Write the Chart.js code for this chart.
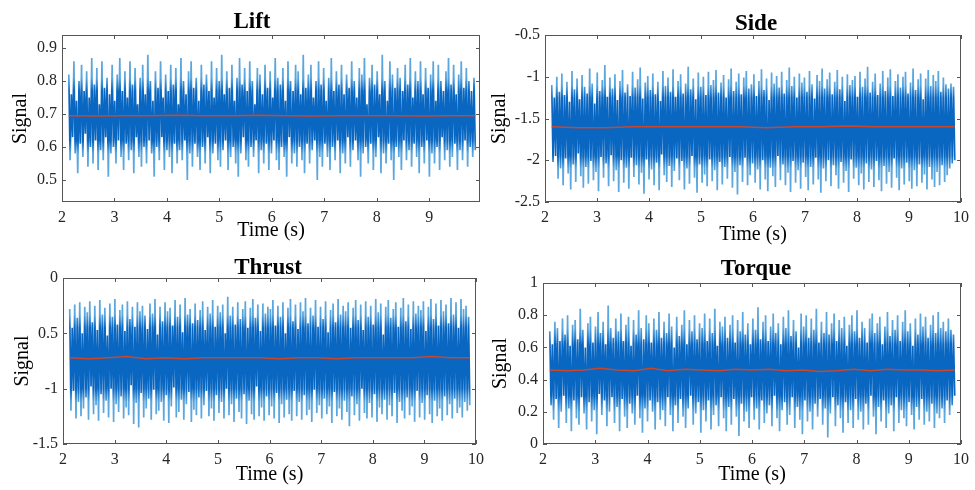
<!DOCTYPE html>
<html>
<head>
<meta charset="utf-8">
<script src="https://cdn.jsdelivr.net/npm/chart.js@4.4.1/dist/chart.umd.min.js"></script>
<style>
  body { margin: 0; background: #fff; }
  .panel { position: absolute; }
</style>
</head>
<body>
<div class="panel" style="left:0;top:0"><canvas id="lift" width="490" height="245"></canvas></div>
<div class="panel" style="left:490px;top:0"><canvas id="side" width="485" height="245"></canvas></div>
<div class="panel" style="left:0;top:245px"><canvas id="thrust" width="490" height="245"></canvas></div>
<div class="panel" style="left:490px;top:245px"><canvas id="torque" width="485" height="245"></canvas></div>
<script>
// sampling window of the recorded signals (s)
const sampleStart = 2.13;
const sampleEnd = 9.88;

const liftSignal = [
  0.82,0.56,0.76,0.63,0.86,0.58,0.74,0.52,0.80,0.61,0.85,0.57,0.77,0.64,0.83,0.54,0.75,0.60,0.87,0.55,
  0.79,0.62,0.84,0.53,0.73,0.59,0.86,0.56,0.78,0.63,0.81,0.51,0.76,0.58,0.85,0.60,0.74,0.55,0.82,0.62,
  0.87,0.57,0.77,0.53,0.83,0.61,0.75,0.56,0.86,0.59,0.79,0.52,0.84,0.63,0.73,0.57,0.81,0.54,0.85,0.60,
  0.76,0.55,0.88,0.62,0.80,0.58,0.74,0.51,0.83,0.60,0.78,0.56,0.86,0.63,0.75,0.53,0.82,0.59,0.77,0.57,
  0.85,0.52,0.79,0.61,0.84,0.55,0.73,0.59,0.87,0.56,0.80,0.62,0.76,0.50,0.83,0.58,0.86,0.54,0.78,0.61,
  0.81,0.57,0.74,0.53,0.85,0.60,0.79,0.55,0.82,0.63,0.77,0.52,0.86,0.58,0.75,0.61,0.84,0.56,0.80,0.54,
  0.88,0.59,0.76,0.62,0.83,0.53,0.78,0.57,0.85,0.60,0.74,0.55,0.81,0.51,0.87,0.58,0.79,0.63,0.84,0.56,
  0.77,0.54,0.86,0.60,0.80,0.57,0.73,0.62,0.84,0.52,0.82,0.59,0.76,0.55,0.85,0.61,0.78,0.53,0.83,0.58,
  0.75,0.62,0.87,0.56,0.81,0.53,0.79,0.60,0.84,0.57,0.74,0.51,0.86,0.63,0.80,0.55,0.77,0.58,0.85,0.54,
  0.83,0.60,0.76,0.56,0.88,0.52,0.78,0.61,0.82,0.55,0.85,0.59,0.75,0.62,0.80,0.50,0.86,0.57,0.79,0.54,
  0.84,0.61,0.74,0.57,0.81,0.53,0.87,0.60,0.77,0.56,0.83,0.62,0.79,0.52,0.85,0.58,0.76,0.55,0.82,0.63,
  0.78,0.54,0.86,0.59,0.80,0.62,0.75,0.56,0.84,0.51,0.82,0.58,0.87,0.60,0.73,0.55,0.81,0.61,0.85,0.53,
  0.79,0.57,0.83,0.63,0.76,0.52,0.88,0.58,0.80,0.55,0.74,0.61,0.86,0.56,0.82,0.50,0.78,0.60,0.84,0.57,
  0.81,0.53,0.77,0.62,0.85,0.56,0.79,0.59,0.87,0.54,0.75,0.61,0.83,0.57,0.80,0.52,0.86,0.60,0.76,0.55,
  0.84,0.62,0.78,0.51,0.82,0.58,0.86,0.55,0.74,0.60,0.85,0.53,0.80,0.63,0.77,0.56,0.83,0.59,0.87,0.54,
  0.79,0.57,0.85,0.61,0.76,0.53,0.82,0.59,0.86,0.56,0.78,0.62,0.84,0.54,0.80,0.60,0.77,0.57,0.81,0.59
];
const liftMean = [0.695,0.694,0.695,0.695,0.696,0.695,0.695,0.696,0.695,0.694,0.695,0.695,0.695,0.694,0.695,0.695];

const sideSignal = [
  -1.10,-2.02,-1.25,-1.95,-1.00,-2.22,-1.18,-2.10,-0.96,-2.30,-1.22,-1.98,-1.06,-2.16,-1.30,-2.35,-0.93,-2.05,-1.15,-2.26,
  -1.02,-1.92,-1.27,-2.19,-0.98,-2.33,-1.12,-2.08,-1.20,-2.28,-0.90,-2.01,-1.08,-2.24,-1.32,-2.14,-0.95,-2.37,-1.17,-1.96,
  -1.04,-2.21,-0.86,-2.04,-1.24,-2.31,-1.01,-1.94,-1.14,-2.25,-0.97,-2.12,-1.28,-2.38,-1.05,-2.00,-0.92,-2.27,-1.19,-2.09,
  -1.09,-2.34,-1.23,-1.97,-0.94,-2.20,-1.13,-2.06,-1.03,-2.29,-0.89,-2.15,-1.26,-2.40,-1.07,-1.99,-0.99,-2.23,-1.16,-2.11,
  -0.96,-2.30,-1.21,-2.03,-1.06,-2.36,-1.29,-1.93,-0.93,-2.18,-1.11,-2.26,-1.01,-2.07,-1.18,-2.32,-0.91,-2.13,-1.24,-1.98,
  -1.05,-2.24,-0.97,-2.01,-1.20,-2.35,-1.08,-2.10,-0.88,-2.28,-1.15,-1.95,-1.02,-2.21,-1.27,-2.39,-0.95,-2.05,-1.12,-2.27,
  -1.00,-2.17,-1.22,-2.31,-0.94,-1.99,-1.10,-2.25,-1.04,-2.12,-0.92,-2.36,-1.19,-2.02,-1.07,-2.29,-0.98,-2.08,-1.25,-2.22,
  -1.03,-1.96,-0.90,-2.33,-1.17,-2.14,-1.06,-2.41,-0.96,-2.06,-1.21,-2.26,-1.01,-1.97,-0.93,-2.30,-1.14,-2.18,-1.09,-2.04,
  -0.97,-2.27,-1.23,-2.11,-1.05,-2.35,-0.91,-2.00,-1.16,-2.23,-1.02,-2.37,-1.28,-2.09,-0.95,-2.19,-1.08,-2.32,-0.99,-1.95,
  -1.13,-2.24,-0.94,-2.05,-1.20,-2.30,-1.04,-2.15,-0.89,-2.38,-1.11,-2.01,-1.00,-2.27,-1.25,-2.12,-0.96,-2.34,-1.07,-2.03,
  -1.01,-2.20,-1.18,-2.36,-0.93,-2.08,-1.09,-2.29,-1.26,-1.97,-0.98,-2.23,-1.05,-2.39,-0.90,-2.10,-1.14,-2.25,-1.03,-2.00,
  -0.95,-2.31,-1.21,-2.06,-1.06,-2.18,-0.92,-2.34,-1.15,-2.02,-1.00,-2.27,-1.29,-2.13,-0.97,-2.38,-1.10,-1.99,-1.04,-2.22,
  -0.99,-2.09,-1.24,-2.30,-0.94,-2.16,-1.12,-2.35,-1.02,-2.04,-0.88,-2.26,-1.19,-2.11,-1.06,-2.32,-0.96,-2.01,-1.22,-2.24,
  -1.08,-2.37,-0.93,-2.07,-1.17,-2.28,-1.01,-2.14,-0.91,-2.33,-1.23,-1.98,-1.05,-2.21,-0.97,-2.36,-1.13,-2.10,-1.00,-2.29,
  -0.94,-2.03,-1.20,-2.25,-1.07,-2.34,-0.90,-2.12,-1.16,-2.31,-1.03,-2.05,-0.96,-2.27,-1.27,-2.17,-1.02,-2.35,-0.92,-2.08,
  -1.11,-2.23,-0.98,-2.32,-1.05,-2.14,-0.93,-2.30,-1.18,-2.06,-1.01,-2.26,-1.09,-2.18,-1.14,-2.10,-1.08,-2.04,-1.12,-2.00
];
const sideMean = [-1.60,-1.61,-1.61,-1.60,-1.60,-1.60,-1.60,-1.60,-1.61,-1.60,-1.60,-1.59,-1.60,-1.60,-1.60,-1.60];

const thrustSignal = [
  -0.28,-1.20,-0.45,-1.02,-0.24,-1.27,-0.36,-1.12,-0.22,-1.25,-0.50,-1.18,-0.26,-1.08,-0.31,-1.28,-0.21,-0.98,-0.40,-1.23,
  -0.25,-1.15,-0.47,-1.29,-0.20,-1.05,-0.33,-1.22,-0.27,-1.11,-0.52,-1.26,-0.23,-1.00,-0.35,-1.30,-0.19,-1.14,-0.42,-1.21,
  -0.29,-1.07,-0.24,-1.27,-0.48,-1.17,-0.21,-1.24,-0.37,-0.97,-0.26,-1.32,-0.44,-1.13,-0.22,-1.35,-0.30,-1.04,-0.25,-1.26,
  -0.34,-1.18,-0.46,-1.09,-0.23,-1.28,-0.32,-1.01,-0.19,-1.23,-0.51,-1.20,-0.26,-1.12,-0.39,-1.29,-0.22,-1.06,-0.30,-1.31,
  -0.27,-1.16,-0.43,-0.99,-0.20,-1.26,-0.35,-1.21,-0.24,-1.10,-0.49,-1.28,-0.18,-1.14,-0.33,-1.03,-0.28,-1.30,-0.41,-1.19,
  -0.23,-1.24,-0.38,-1.08,-0.29,-1.27,-0.21,-1.15,-0.47,-1.02,-0.26,-1.25,-0.32,-1.18,-0.20,-1.29,-0.44,-1.06,-0.25,-1.22,
  -0.31,-1.12,-0.24,-1.27,-0.50,-1.00,-0.17,-1.24,-0.34,-1.14,-0.26,-1.30,-0.42,-1.09,-0.22,-1.21,-0.37,-1.27,-0.28,-1.05,
  -0.21,-1.32,-0.45,-1.11,-0.27,-1.23,-0.19,-1.28,-0.36,-0.98,-0.24,-1.25,-0.48,-1.17,-0.23,-1.29,-0.32,-1.07,-0.26,-1.24,
  -0.28,-1.16,-0.20,-1.27,-0.43,-1.04,-0.25,-1.31,-0.35,-1.14,-0.22,-1.26,-0.50,-1.10,-0.27,-1.23,-0.19,-1.29,-0.39,-1.02,
  -0.24,-1.25,-0.46,-1.12,-0.22,-1.28,-0.30,-1.06,-0.18,-1.24,-0.41,-1.19,-0.27,-1.30,-0.34,-1.01,-0.20,-1.22,-0.44,-1.15,
  -0.26,-1.27,-0.37,-1.09,-0.21,-1.23,-0.49,-1.16,-0.29,-1.31,-0.23,-1.03,-0.40,-1.25,-0.19,-1.18,-0.33,-1.28,-0.25,-1.11,
  -0.30,-1.21,-0.22,-1.34,-0.45,-1.07,-0.27,-1.24,-0.20,-1.14,-0.38,-1.29,-0.24,-1.00,-0.47,-1.22,-0.21,-1.27,-0.35,-1.13,
  -0.25,-1.26,-0.42,-1.05,-0.19,-1.30,-0.31,-1.17,-0.23,-1.23,-0.51,-1.10,-0.26,-1.28,-0.20,-1.15,-0.36,-1.25,-0.28,-1.04,
  -0.22,-1.31,-0.44,-1.12,-0.27,-1.20,-0.18,-1.27,-0.39,-1.08,-0.24,-1.24,-0.46,-1.16,-0.21,-1.30,-0.32,-1.02,-0.25,-1.26,
  -0.29,-1.13,-0.21,-1.28,-0.48,-1.06,-0.26,-1.23,-0.19,-1.31,-0.37,-1.11,-0.23,-1.25,-0.43,-1.18,-0.20,-1.29,-0.30,-1.07,
  -0.24,-1.24,-0.41,-1.14,-0.18,-1.27,-0.33,-1.09,-0.22,-1.22,-0.45,-1.17,-0.19,-1.26,-0.28,-1.12,-0.25,-1.20,-0.35,-1.15
];
const thrustMean = [-0.72,-0.73,-0.72,-0.71,-0.73,-0.72,-0.73,-0.72,-0.72,-0.72,-0.72,-0.73,-0.72,-0.72,-0.73,-0.72,-0.72,-0.72,-0.72,-0.71,-0.72,-0.72];

const torqueSignal = [
  0.70,0.24,0.62,0.15,0.76,0.28,0.72,0.10,0.64,0.20,0.78,0.30,0.68,0.13,0.80,0.22,0.61,0.08,0.74,0.27,
  0.77,0.16,0.65,0.12,0.84,0.29,0.71,0.19,0.60,0.09,0.75,0.26,0.79,0.14,0.63,0.21,0.73,0.06,0.82,0.31,
  0.69,0.18,0.76,0.27,0.62,0.11,0.86,0.20,0.72,0.29,0.66,0.13,0.78,0.23,0.70,0.08,0.81,0.28,0.64,0.17,
  0.74,0.10,0.79,0.25,0.61,0.19,0.77,0.12,0.68,0.30,0.83,0.16,0.72,0.07,0.65,0.22,0.80,0.14,0.75,0.27,
  0.63,0.20,0.78,0.09,0.71,0.26,0.82,0.15,0.66,0.21,0.76,0.11,0.69,0.29,0.81,0.18,0.73,0.08,0.60,0.24,
  0.79,0.13,0.67,0.28,0.74,0.17,0.83,0.10,0.62,0.22,0.77,0.30,0.70,0.12,0.80,0.19,0.65,0.26,0.75,0.07,
  0.72,0.21,0.81,0.14,0.64,0.27,0.78,0.09,0.69,0.18,0.84,0.24,0.61,0.11,0.76,0.29,0.73,0.16,0.79,0.08,
  0.66,0.23,0.74,0.12,0.80,0.28,0.63,0.17,0.77,0.05,0.70,0.25,0.82,0.14,0.68,0.20,0.75,0.10,0.62,0.29,
  0.78,0.15,0.71,0.22,0.85,0.09,0.65,0.27,0.76,0.13,0.80,0.19,0.64,0.24,0.73,0.11,0.81,0.30,0.69,0.16,
  0.75,0.08,0.62,0.21,0.79,0.26,0.72,0.12,0.83,0.18,0.67,0.29,0.77,0.10,0.70,0.23,0.60,0.15,0.81,0.06,
  0.73,0.27,0.80,0.14,0.66,0.20,0.78,0.09,0.71,0.25,0.84,0.17,0.63,0.28,0.76,0.12,0.69,0.22,0.82,0.04,
  0.68,0.19,0.75,0.29,0.81,0.11,0.64,0.24,0.77,0.16,0.72,0.07,0.79,0.26,0.61,0.13,0.74,0.21,0.80,0.10,
  0.70,0.28,0.83,0.15,0.66,0.20,0.76,0.09,0.72,0.25,0.63,0.12,0.78,0.30,0.81,0.17,0.69,0.06,0.75,0.23,
  0.79,0.14,0.62,0.27,0.73,0.10,0.82,0.19,0.67,0.24,0.77,0.08,0.71,0.29,0.80,0.13,0.64,0.21,0.76,0.16,
  0.83,0.11,0.70,0.26,0.75,0.18,0.61,0.09,0.78,0.23,0.68,0.15,0.81,0.28,0.73,0.12,0.79,0.20,0.66,0.14,
  0.74,0.25,0.80,0.10,0.69,0.19,0.82,0.16,0.72,0.22,0.76,0.13,0.70,0.27,0.78,0.18,0.71,0.24,0.68,0.30
];
const torqueMean = [0.46,0.455,0.46,0.47,0.46,0.455,0.47,0.455,0.465,0.46,0.455,0.465,0.46,0.465,0.455,0.46,0.45,0.455,0.465,0.455,0.465,0.46,0.46,0.455,0.46];

const timeTicks = [2, 3, 4, 5, 6, 7, 8, 9, 10];
const timeLabels = ['2', '3', '4', '5', '6', '7', '8', '9', '10'];
const liftTicks = [0.5, 0.6, 0.7, 0.8, 0.9];
const liftLabels = ['0.5', '0.6', '0.7', '0.8', '0.9'];
const sideTicks = [-2.5, -2, -1.5, -1, -0.5];
const sideLabels = ['-2.5', '-2', '-1.5', '-1', '-0.5'];
const thrustTicks = [-1.5, -1, -0.5, 0];
const thrustLabels = ['-1.5', '-1', '0.5', '0'];
const torqueTicks = [0, 0.2, 0.4, 0.6, 0.8, 1];
const torqueLabels = ['0', '0.2', '0.4', '0.6', '0.8', '1'];

const serif = '"Liberation Serif", "Times New Roman", serif';
const darkBlue = '#0967C2';
const lightBlue = '#5AA6DE';

function toPoints(values) {
  const step = (sampleEnd - sampleStart) / (values.length - 1);
  return values.map((v, i) => ({ x: sampleStart + i * step, y: v }));
}

// dense core of the trace is dark, the thin excursions look lighter
function bandColor(context, band) {
  const chart = context.chart;
  const area = chart.chartArea;
  const ys = chart.scales.y;
  if (!area || !ys) return darkBlue;
  const frac = v => Math.min(1, Math.max(0, (ys.getPixelForValue(v) - area.top) / area.height));
  const g = chart.ctx.createLinearGradient(0, area.top, 0, area.bottom);
  g.addColorStop(0, lightBlue);
  g.addColorStop(frac(band[0]), lightBlue);
  g.addColorStop(frac(band[1]), darkBlue);
  g.addColorStop(frac(band[2]), darkBlue);
  g.addColorStop(frac(band[3]), lightBlue);
  g.addColorStop(1, lightBlue);
  return g;
}

// MATLAB-like box with inward ticks, plus the panel title
const framePlugin = {
  id: 'frame',
  afterDraw(chart) {
    const { ctx, chartArea: a } = chart;
    const xs = chart.scales.x, ys = chart.scales.y;
    ctx.save();
    ctx.strokeStyle = '#555';
    ctx.lineWidth = 1;
    ctx.strokeRect(a.left + 0.5, a.top + 0.5, a.width - 1, a.height - 1);
    ctx.beginPath();
    xs.ticks.forEach(t => {
      const px = Math.round(xs.getPixelForValue(t.value)) + 0.5;
      ctx.moveTo(px, a.bottom); ctx.lineTo(px, a.bottom - 4);
      ctx.moveTo(px, a.top); ctx.lineTo(px, a.top + 4);
    });
    ys.ticks.forEach(t => {
      const py = Math.round(ys.getPixelForValue(t.value)) + 0.5;
      ctx.moveTo(a.left, py); ctx.lineTo(a.left + 4, py);
      ctx.moveTo(a.right, py); ctx.lineTo(a.right - 4, py);
    });
    ctx.stroke();
    const t = chart.options.plugins.frame;
    ctx.fillStyle = '#000';
    ctx.font = 'bold 23px ' + serif;
    ctx.textAlign = 'center';
    ctx.textBaseline = 'middle';
    ctx.fillText(t.title, t.titleX, t.titleY);
    ctx.restore();
  }
};

function makePanel(id, cfg) {
  const ctx = document.getElementById(id).getContext('2d');
  return new Chart(ctx, {
    type: 'line',
    data: {
      datasets: [{
        // running mean, listed first so it is drawn on top
        data: toPoints(cfg.mean),
        borderColor: '#C9472B',
        borderWidth: 1.5,
        pointRadius: 0,
        tension: 0
      }, {
        data: toPoints(cfg.signal),
        borderColor: c => bandColor(c, cfg.band),
        borderWidth: 1.7,
        pointRadius: 0,
        tension: 0
      }]
    },
    options: {
      responsive: false,
      animation: false,
      events: [],
      layout: { padding: { top: cfg.padTop, right: cfg.padRight, left: 0, bottom: 0 } },
      plugins: {
        legend: { display: false },
        tooltip: { enabled: false },
        frame: { title: cfg.title, titleX: cfg.titleX, titleY: cfg.titleY }
      },
      scales: {
        x: {
          type: 'linear',
          min: 2,
          max: cfg.xMax,
          afterBuildTicks: s => { s.ticks = timeTicks.filter(v => v <= cfg.xMax).map(v => ({ value: v })); },
          afterFit: s => { s.height = cfg.xHeight; },
          grid: { display: false, drawTicks: false },
          border: { display: false },
          ticks: {
            padding: 6,
            color: '#262626',
            font: { family: serif, size: 16 },
            maxRotation: 0,
            callback: v => timeLabels[timeTicks.indexOf(v)]
          },
          title: {
            display: true,
            text: 'Time (s)',
            color: '#000',
            font: { family: serif, size: 20, lineHeight: 1 },
            padding: { top: 0, bottom: cfg.xTitlePad }
          }
        },
        y: {
          type: 'linear',
          min: cfg.yMin,
          max: cfg.yMax,
          afterBuildTicks: s => { s.ticks = cfg.yTicks.map(v => ({ value: v })); },
          afterFit: s => { s.width = cfg.yWidth; },
          grid: { display: false, drawTicks: false },
          border: { display: false },
          ticks: {
            padding: 5,
            color: '#262626',
            font: { family: serif, size: 16 },
            callback: (v, i) => cfg.yLabels[i]
          },
          title: {
            display: true,
            text: 'Signal',
            color: '#000',
            font: { family: serif, size: 20, lineHeight: 1 },
            padding: { top: cfg.yTitlePad, bottom: 0 }
          }
        }
      }
    },
    plugins: [framePlugin]
  });
}

makePanel('lift', {
  title: 'Lift', titleX: 252, titleY: 22,
  signal: liftSignal, mean: liftMean, band: [0.81, 0.77, 0.62, 0.58],
  xMax: 9.97, yMin: 0.433, yMax: 0.94, yTicks: liftTicks, yLabels: liftLabels,
  padTop: 35, padRight: 10, yWidth: 62, xHeight: 43, yTitlePad: 11, xTitlePad: 4
});
makePanel('side', {
  title: 'Side', titleX: 266, titleY: 24,
  signal: sideSignal, mean: sideMean, band: [-1.1, -1.25, -1.95, -2.1],
  xMax: 10, yMin: -2.5, yMax: -0.5, yTicks: sideTicks, yLabels: sideLabels,
  padTop: 35, padRight: 10, yWidth: 55, xHeight: 43, yTitlePad: 0, xTitlePad: 0
});
makePanel('thrust', {
  title: 'Thrust', titleX: 268, titleY: 23,
  signal: thrustSignal, mean: thrustMean, band: [-0.33, -0.45, -1.0, -1.12],
  xMax: 10, yMin: -1.5, yMax: 0, yTicks: thrustTicks, yLabels: thrustLabels,
  padTop: 33, padRight: 10, yWidth: 63, xHeight: 46, yTitlePad: 13, xTitlePad: 5
});
makePanel('torque', {
  title: 'Torque', titleX: 266, titleY: 24,
  signal: torqueSignal, mean: torqueMean, band: [0.72, 0.62, 0.3, 0.2],
  xMax: 10, yMin: 0, yMax: 1, yTicks: torqueTicks, yLabels: torqueLabels,
  padTop: 38, padRight: 12, yWidth: 53, xHeight: 46, yTitlePad: 1, xTitlePad: 5
});
</script>
</body>
</html>
